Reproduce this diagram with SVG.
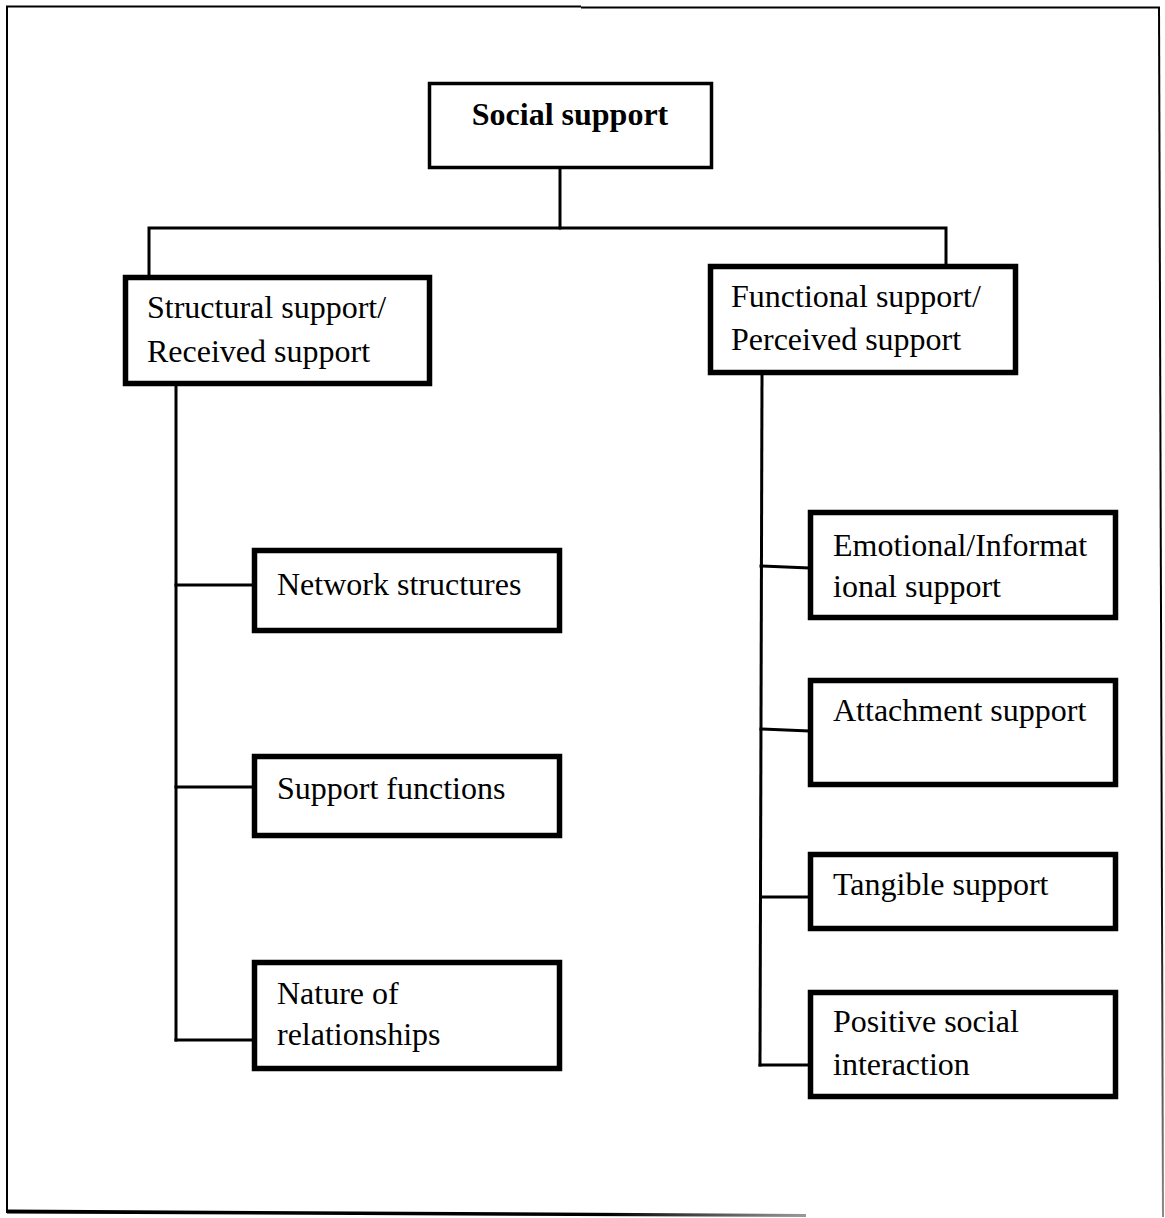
<svg xmlns="http://www.w3.org/2000/svg" width="1165" height="1218" viewBox="0 0 1165 1218">
  <defs>
    <style>
      .box { fill: #ffffff; stroke: #000000; stroke-width: 5.5; }
      .box-thin { fill: #ffffff; stroke: #000000; stroke-width: 3.5; }
      .wire { fill: none; stroke: #000000; stroke-width: 3; stroke-linecap: square; }
      .label { font-family: "Liberation Serif", "Times New Roman", serif; font-size: 32px; fill: #000000; }
      .title { font-family: "Liberation Serif", "Times New Roman", serif; font-size: 32px; font-weight: bold; fill: #000000; }
      .frame { fill: none; stroke: #000000; stroke-width: 2; }
    </style>
    <linearGradient id="fadeRight" x1="0" y1="0" x2="1" y2="0">
      <stop offset="0" stop-color="#000000"/>
      <stop offset="0.75" stop-color="#000000"/>
      <stop offset="1" stop-color="#9a9a9a"/>
    </linearGradient>
    <linearGradient id="fadeDown" gradientUnits="userSpaceOnUse" x1="0" y1="7" x2="0" y2="1217">
      <stop offset="0" stop-color="#000000"/>
      <stop offset="0.7" stop-color="#000000"/>
      <stop offset="1" stop-color="#8a8a8a"/>
    </linearGradient>
  </defs>

  <rect width="1165" height="1218" fill="#ffffff"/>

  <!-- page frame -->
  <g id="frame">
    <line class="frame" x1="6" y1="6.5" x2="581" y2="6.5" stroke-width="2.5"/>
    <line class="frame" x1="581" y1="7.5" x2="1160" y2="7.5"/>
    <line class="frame" x1="7" y1="6" x2="7" y2="1213"/>
    <path d="M1159 7 L1163 1217" fill="none" stroke="url(#fadeDown)" stroke-width="2"/>
    <polygon points="7,1209.5 806,1214 806,1217 7,1213.5" fill="url(#fadeRight)"/>
  </g>

  <!-- connectors -->
  <g id="connectors">
    <polyline class="wire" points="560,168 560,228"/>
    <polyline class="wire" points="149,277 149,228 946,228 946,265"/>
    <!-- left branch -->
    <polyline class="wire" points="176,386 176,1040"/>
    <line class="wire" x1="176" y1="585" x2="252" y2="585"/>
    <line class="wire" x1="176" y1="787" x2="252" y2="787"/>
    <line class="wire" x1="176" y1="1040" x2="252" y2="1040"/>
    <!-- right branch -->
    <polyline class="wire" points="762,376 760,1065"/>
    <line class="wire" x1="761" y1="566" x2="808" y2="568"/>
    <line class="wire" x1="761" y1="729" x2="808" y2="731"/>
    <line class="wire" x1="761" y1="897" x2="808" y2="897"/>
    <line class="wire" x1="760" y1="1065" x2="808" y2="1065"/>
  </g>

  <g id="social-support">
    <rect class="box-thin" x="429.5" y="83.5" width="282" height="84"/>
    <text class="title" x="570" y="125" text-anchor="middle">Social support</text>
  </g>

  <g id="structural-support">
    <rect class="box" x="125.5" y="277.5" width="304" height="106"/>
    <text class="label" x="147" y="318">Structural support/</text>
    <text class="label" x="147" y="362">Received support</text>
  </g>

  <g id="functional-support">
    <rect class="box" x="710.5" y="266.5" width="305" height="106"/>
    <text class="label" x="731" y="307">Functional support/</text>
    <text class="label" x="731" y="350">Perceived support</text>
  </g>

  <g id="network-structures">
    <rect class="box" x="254.5" y="550.5" width="305" height="80"/>
    <text class="label" x="277" y="595">Network structures</text>
  </g>

  <g id="support-functions">
    <rect class="box" x="254.5" y="756.5" width="305" height="79"/>
    <text class="label" x="277" y="799">Support functions</text>
  </g>

  <g id="nature-of-relationships">
    <rect class="box" x="254.5" y="962.5" width="305" height="106"/>
    <text class="label" x="277" y="1004">Nature of</text>
    <text class="label" x="277" y="1045">relationships</text>
  </g>

  <g id="emotional-informational-support">
    <rect class="box" x="810.5" y="512.5" width="305" height="105"/>
    <text class="label" x="833" y="556">Emotional/Informat</text>
    <text class="label" x="833" y="597">ional support</text>
  </g>

  <g id="attachment-support">
    <rect class="box" x="810.5" y="680.5" width="305" height="104"/>
    <text class="label" x="833" y="721">Attachment support</text>
  </g>

  <g id="tangible-support">
    <rect class="box" x="810.5" y="854.5" width="305" height="74"/>
    <text class="label" x="833" y="895">Tangible support</text>
  </g>

  <g id="positive-social-interaction">
    <rect class="box" x="810.5" y="992.5" width="305" height="104"/>
    <text class="label" x="833" y="1032">Positive social</text>
    <text class="label" x="833" y="1075">interaction</text>
  </g>
</svg>
